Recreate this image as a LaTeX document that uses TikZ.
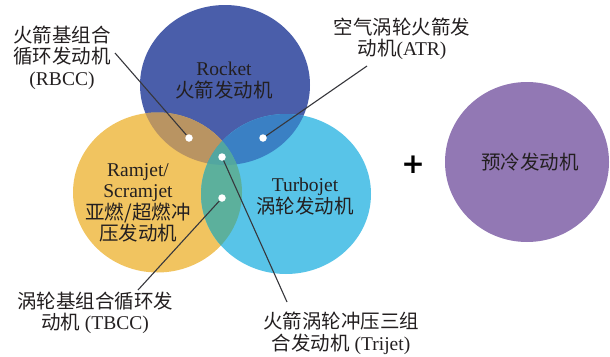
\documentclass[tikz,border=0pt]{standalone}
\usepackage{fontspec}
\setmainfont{Liberation Serif}
\newfontfamily\cjk{Noto Sans CJK SC}
\newfontfamily\plusfont{DejaVu Sans}
\usetikzlibrary{shapes.geometric}
\definecolor{cRocket}{RGB}{74,94,170}
\definecolor{cRam}{RGB}{241,196,96}
\definecolor{cTurbo}{RGB}{88,196,232}
\definecolor{cRRa}{RGB}{185,148,98}
\definecolor{cRT}{RGB}{58,128,196}
\definecolor{cRaT}{RGB}{92,176,156}
\definecolor{cAll}{RGB}{82,166,160}
\definecolor{cPre}{RGB}{146,120,180}
\definecolor{cTxt}{RGB}{35,31,32}
\definecolor{cLine}{RGB}{55,55,60}
\tikzset{
  lbl/.style={align=center, inner sep=0pt, text=cTxt, font=\fontsize{19.5}{21.5}\selectfont},
  dotnode/.style={circle, fill=white, draw=none, inner sep=0pt, minimum size=7.5pt},
  leader/.style={draw=cLine, line width=1.1pt},
}
\begin{document}
\begin{tikzpicture}[x=1pt,y=-1pt]
\useasboundingbox (0,0) rectangle (610,356);
% base circles
\fill[cRocket] (225,85) ellipse [x radius=85pt, y radius=80pt];
\fill[cRam] (157.5,192.5) ellipse [x radius=84.5pt, y radius=80pt];
\fill[cTurbo] (286,194) ellipse [x radius=85pt, y radius=80pt];
% pairwise overlaps
\begin{scope}
  \clip (225,85) ellipse [x radius=85pt, y radius=80pt];
  \fill[cRRa] (157.5,192.5) ellipse [x radius=84.5pt, y radius=80pt];
\end{scope}
\begin{scope}
  \clip (225,85) ellipse [x radius=85pt, y radius=80pt];
  \fill[cRT] (286,194) ellipse [x radius=85pt, y radius=80pt];
\end{scope}
\begin{scope}
  \clip (157.5,192.5) ellipse [x radius=84.5pt, y radius=80pt];
  \fill[cRaT] (286,194) ellipse [x radius=85pt, y radius=80pt];
\end{scope}
\begin{scope}
  \clip (225,85) ellipse [x radius=85pt, y radius=80pt];
  \clip (157.5,192.5) ellipse [x radius=84.5pt, y radius=80pt];
  \fill[cAll] (286,194) ellipse [x radius=85pt, y radius=80pt];
\end{scope}
% precooled engine
\fill[cPre] (527,162) ellipse [x radius=82pt, y radius=80pt];

% circle texts
\node[lbl] (rocket) at (224,80.5) {Rocket\\{\cjk 火箭发动机}};
\node[lbl] (ramjet) at (138,203) {Ramjet/\\Scramjet\\{\cjk 亚燃/超燃冲}\\{\cjk 压发动机}};
\node[lbl] (turbo) at (305,196.5) {Turbojet\\{\cjk 涡轮发动机}};
\node[lbl] (pre) at (530,162) {{\cjk 预冷发动机}};
\node[inner sep=0pt, text=black, font=\plusfont\bfseries\fontsize{28}{28}\selectfont] (plus) at (413,165) {+};

% outer labels
\node[lbl] (rbcc) at (62,57.5) {{\cjk 火箭基组合}\\{\cjk 循环发动机}\\(RBCC)};
\node[lbl] (atr) at (402,39) {{\cjk 空气涡轮火箭发}\\{\cjk 动机}(ATR)};
\node[lbl] (tbcc) at (95,313) {{\cjk 涡轮基组合循环发}\\{\cjk 动机} (TBCC)};
\node[lbl] (trijet) at (341,333.5) {{\cjk 火箭涡轮冲压三组}\\{\cjk 合发动机} (Trijet)};

% leader free ends
\coordinate (eRBCC) at (115,53);
\coordinate (eATR) at (367,66);
\coordinate (eTBCC) at (138,290);
\coordinate (eTri) at (287,302);

% dots
\node[dotnode] (dRBCC) at (189,138) {};
\node[dotnode] (dATR) at (263,138) {};
\node[dotnode] (dTri) at (222,157) {};
\node[dotnode] (dTBCC) at (222,198) {};

% leaders
\draw[leader] (eRBCC) -- (dRBCC);
\draw[leader] (eATR) -- (dATR);
\draw[leader] (dTri) -- (eTri);
\draw[leader] (dTBCC) -- (eTBCC);
\end{tikzpicture}
\end{document}
